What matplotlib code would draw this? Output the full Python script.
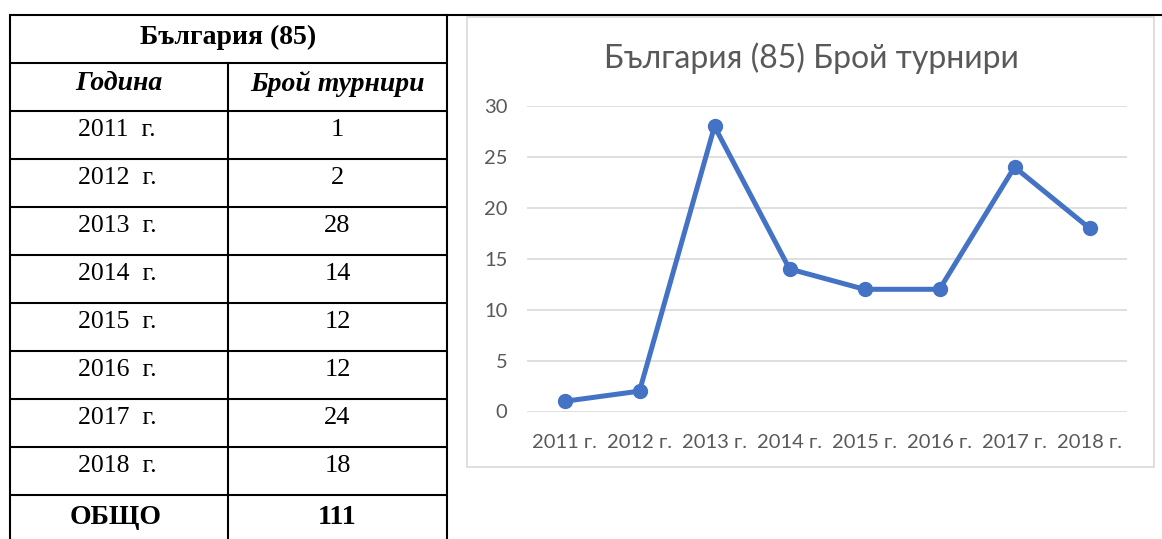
import matplotlib.pyplot as plt
from matplotlib.patches import Rectangle

# data
years = [2011, 2012, 2013, 2014, 2015, 2016, 2017, 2018]
counts = [1, 2, 28, 14, 12, 12, 24, 18]
table_title = 'България (85)'
col_headers = ['Година', 'Брой турнири']
total_label = 'ОБЩО'
chart_title = 'България (85) Брой турнири'

W, H = 1162, 539
fig = plt.figure(figsize=(W / 100, H / 100), dpi=100)

# background axes in pixel coordinates for the table and chart frame
bg = fig.add_axes([0, 0, 1, 1])
bg.set_xlim(0, W)
bg.set_ylim(H, 0)
bg.axis('off')

serif = 'Liberation Serif'
lw_tab = 1.5

# table geometry
x_left, x_mid, x_right = 10, 228, 447
row_top, row_h = 15, 48
n_rows = 2 + len(years) + 1
row_lines = [row_top + i * row_h for i in range(n_rows)]

# horizontal lines (top one runs across the whole page)
bg.plot([x_left, W], [row_top, row_top], color='black', lw=lw_tab, solid_capstyle='butt')
for y in row_lines[1:]:
    bg.plot([x_left, x_right], [y, y], color='black', lw=lw_tab, solid_capstyle='butt')
# vertical lines
bg.plot([x_left, x_left], [row_top, H], color='black', lw=lw_tab)
bg.plot([x_right, x_right], [row_top, H], color='black', lw=lw_tab)
bg.plot([x_mid, x_mid], [row_lines[1], H], color='black', lw=lw_tab)

c1 = (x_left + x_mid) / 2
c2 = (x_mid + x_right) / 2
fs = 20
dy = 22

bg.text((x_left + x_right) / 2, row_lines[0] + dy, table_title, family=serif,
        fontsize=fs, fontweight='bold', ha='center', va='center')
bg.text(c1, row_lines[1] + dy - 1, col_headers[0], family=serif, fontsize=fs,
        fontweight='bold', style='italic', ha='center', va='center')
bg.text(c2, row_lines[1] + dy - 1, col_headers[1], family=serif, fontsize=fs,
        fontweight='bold', style='italic', ha='center', va='center')
for i, (yr, c) in enumerate(zip(years, counts)):
    yy = row_lines[2 + i] + dy - 3
    bg.text(c1 - 2, yy, f'{yr}  г.', family=serif, fontsize=18.5, ha='center', va='center')
    bg.text(c2, yy, str(c), family=serif, fontsize=19, ha='center', va='center')
bg.text(c1 - 3, row_lines[-1] + dy, total_label, family=serif, fontsize=fs,
        fontweight='bold', ha='center', va='center')
bg.text(c2, row_lines[-1] + dy, str(sum(counts)), family=serif, fontsize=fs,
        fontweight='bold', ha='center', va='center')

# chart frame
bg.add_patch(Rectangle((467, 17), 1154 - 467, 467 - 17, fill=False,
                       edgecolor='#D9D9D9', lw=1.2))

# line chart
px_l, px_r, px_t, px_b = 527, 1127, 106, 411.5
ax = fig.add_axes([px_l / W, (H - px_b) / H, (px_r - px_l) / W, (px_b - px_t) / H])
ax.patch.set_alpha(0)
x = list(range(len(years)))
ax.plot(x, counts, color='#4472C4', lw=3.6, marker='o', markersize=10, zorder=3)
ax.set_xlim(-0.5, len(years) - 0.5)
ax.set_ylim(0, 30)
ax.set_yticks(range(0, 31, 5))
ax.set_xticks(x)
ax.set_xticklabels([f'{yr} г.' for yr in years])
for s in ax.spines.values():
    s.set_visible(False)
ax.grid(axis='y', color='#D9D9D9', lw=1.2)
ax.set_axisbelow(True)
ax.tick_params(length=0, labelsize=14.5, labelcolor='#595959')
ax.tick_params(axis='y', pad=14)
ax.tick_params(axis='x', pad=16)
for lab in ax.get_xticklabels() + ax.get_yticklabels():
    lab.set_family('Lato')

bg.text(811, 58, chart_title, family='Lato', fontsize=23, color='#595959',
        ha='center', va='center')

fig.savefig('out.png', dpi=100)
